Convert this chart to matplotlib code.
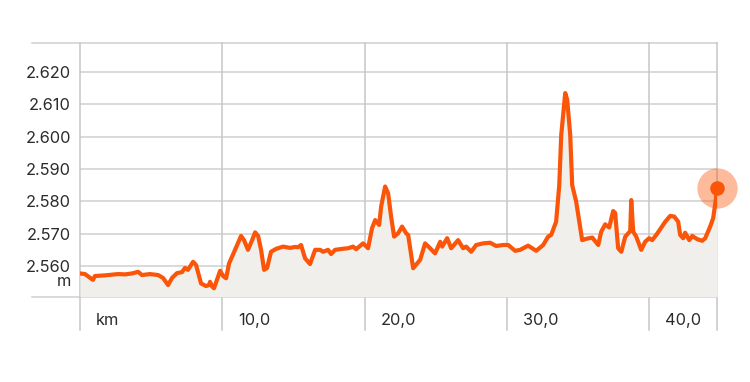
import numpy as np
import matplotlib
matplotlib.use('Agg')
import matplotlib.pyplot as plt

# elevation profile (km, m)
km = [0, 0.35, 0.91, 1.05, 1.76, 2.67, 3.16, 3.66, 4.08, 4.36, 4.92, 5.49, 5.84,
      6.19, 6.47, 6.82, 7.17, 7.38, 7.59, 7.95, 8.16, 8.51, 8.86, 9.07, 9.14, 9.28,
      9.42, 9.63, 9.85, 10.06, 10.27, 10.48, 10.9, 11.32, 11.53, 11.81, 12.1, 12.31,
      12.52, 12.73, 12.94, 13.15, 13.43, 13.78, 14.28, 14.77, 15.12, 15.33, 15.54,
      15.82, 16.17, 16.53, 16.88, 17.09, 17.44, 17.65, 17.93, 18.42, 18.85, 19.2,
      19.41, 19.9, 20.25, 20.53, 20.75, 21.03, 21.17, 21.45, 21.66, 21.87, 22.08,
      22.36, 22.64, 22.93, 23.07, 23.28, 23.42, 23.91, 24.26, 24.61, 24.96, 25.32,
      25.46, 25.81, 26.09, 26.58, 26.93, 27.14, 27.5, 27.85, 28.34, 28.83, 29.25,
      29.75, 30.1, 30.59, 30.94, 31.5, 32.07, 32.56, 32.91, 33.12, 33.47, 33.69,
      33.83, 34.11, 34.25, 34.46, 34.6, 34.88, 35.3, 35.58, 36.01, 36.43, 36.64,
      36.92, 37.2, 37.48, 37.62, 37.83, 38.05, 38.33, 38.54, 38.68, 38.75, 38.89,
      39.1, 39.45, 39.73, 40.01, 40.22, 40.51, 40.79, 41.14, 41.49, 41.77, 42.05,
      42.19, 42.4, 42.54, 42.83, 43.04, 43.39, 43.74, 43.95, 44.3, 44.51, 44.66, 44.8]
elev = [2557.7, 2557.5, 2555.7, 2556.9, 2557.1, 2557.5, 2557.4, 2557.7, 2558.2,
        2557.2, 2557.5, 2557.2, 2556.3, 2554.1, 2556.3, 2557.8, 2558.1, 2559.4,
        2558.8, 2561.3, 2560.3, 2554.6, 2553.8, 2554.1, 2555.1, 2553.7, 2553.1,
        2555.7, 2558.5, 2556.9, 2556.2, 2560.8, 2565.0, 2569.3, 2568.0, 2565.0,
        2568.0, 2570.4, 2569.3, 2565.0, 2558.8, 2559.4, 2564.4, 2565.3, 2566.0,
        2565.6, 2565.9, 2565.8, 2566.5, 2562.4, 2560.6, 2565.0, 2565.0, 2564.4,
        2565.0, 2563.7, 2565.0, 2565.3, 2565.5, 2566.0, 2565.2, 2567.0, 2565.5,
        2571.7, 2574.2, 2572.7, 2578.4, 2584.6, 2582.5, 2575.3, 2569.1, 2570.1,
        2572.2, 2570.1, 2569.6, 2563.4, 2559.3, 2561.9, 2567.0, 2565.5, 2563.9,
        2567.5, 2566.0, 2568.6, 2565.5, 2568.0, 2565.5, 2566.0, 2564.4, 2566.5,
        2567.0, 2567.2, 2566.2, 2566.5, 2566.5, 2564.7, 2565.0, 2566.3, 2564.7,
        2566.5, 2569.1, 2569.6, 2573.7, 2585.0, 2600.6, 2613.5, 2611.4, 2600.6,
        2585.0, 2579.9, 2568.0, 2568.4, 2568.8, 2566.5, 2570.6, 2572.9, 2571.9,
        2577.0, 2576.4, 2565.5, 2564.4, 2569.1, 2570.1, 2570.8, 2580.4, 2570.6,
        2569.1, 2565.0, 2567.5, 2568.6, 2568.0, 2569.6, 2571.4, 2573.7, 2575.5,
        2575.3, 2573.7, 2569.6, 2568.6, 2570.3, 2568.0, 2569.3, 2568.3, 2567.8,
        2568.6, 2572.2, 2574.8, 2579.4, 2584.1]

y_ticks = [2560, 2570, 2580, 2590, 2600, 2610, 2620]
y_labels = ['2.560', '2.570', '2.580', '2.590', '2.600', '2.610', '2.620']
x_ticks = [0, 10, 20, 30, 40]
x_labels = ['km', '10,0', '20,0', '30,0', '40,0']

orange = '#fa5508'
grid_c = '#cfcfcf'
text_c = '#2b2b2b'
fs = 11.8
plt.rcParams['font.family'] = ['Inter', 'DejaVu Sans']

fig = plt.figure(figsize=(7.5, 3.82), dpi=100)
ax = fig.add_axes([80 / 750, 1 - 296.7 / 382, 637.3 / 750, 253.7 / 382])
ymin, ymax = 2550.5, 2629
ax.set_xlim(0, km[-1])
ax.set_ylim(ymin, ymax)
for s in ax.spines.values():
    s.set_visible(False)

# grid
for v in y_ticks:
    ax.axhline(v, color=grid_c, lw=1.1, zorder=1)
for v in [ymin, ymax]:
    ax.axhline(v, xmin=-48 / 637.3, xmax=1.0, color=grid_c, lw=1.1, clip_on=False, zorder=1)
for v in x_ticks + [km[-1]]:
    ax.axvline(v, ymin=-33.3 / 253.7, ymax=1.0, color='#c6c6c6', lw=1.1, clip_on=False, zorder=1)

ax.fill_between(km, elev, ymin, color='#f0efeb', lw=0, zorder=2)
ax.plot(km, elev, color=orange, lw=3.0, solid_joinstyle='round', zorder=3)

# end point marker
ax.plot(km[-1], elev[-1], 'o', ms=29, color=orange, alpha=0.4, mec='none', clip_on=False, zorder=4)
ax.plot(km[-1], elev[-1], 'o', ms=10.5, color=orange, mec='none', clip_on=False, zorder=5)

ax.set_xticks([])
ax.set_yticks(y_ticks)
ax.set_yticklabels(y_labels)
ax.tick_params(axis='y', length=0, pad=6.5, labelsize=fs, labelcolor=text_c)
ax.annotate('m', xy=(0, 2560), xycoords=('axes fraction', 'data'), xytext=(-6.5, -11.5),
            textcoords='offset points', ha='right', va='center', fontsize=fs, color=text_c)

for k, lab in zip(x_ticks, x_labels):
    ax.annotate(lab, xy=(k, 0), xycoords=('data', 'axes fraction'), xytext=(11.5, -16.8),
                textcoords='offset points', ha='left', va='center', fontsize=fs, color=text_c)

fig.savefig('out.png', dpi=100)
